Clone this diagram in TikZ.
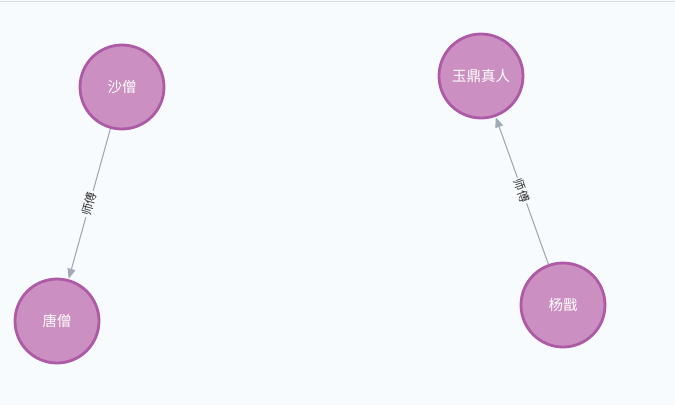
\documentclass[tikz,border=0pt]{standalone}
\usepackage{fontspec}
\newfontfamily\cjk{Noto Sans CJK SC}
\usetikzlibrary{arrows.meta}
\definecolor{bgc}{HTML}{F7FBFE}
\definecolor{nodefill}{HTML}{CB90C1}
\definecolor{nodeedge}{HTML}{AE5AA6}
\definecolor{edgec}{HTML}{A2A9B5}
\definecolor{topline}{HTML}{D6DDE4}
\definecolor{labc}{HTML}{333333}
\tikzset{
  person/.style={circle, draw=nodeedge, line width=2.8pt, fill=nodefill, minimum size=84pt, inner sep=0pt, text=white, font=\cjk\fontsize{14.5}{15}\selectfont},
  rel/.style={draw=edgec, line width=1.1pt, -{Triangle[length=10pt,width=8pt]}, shorten >=0.5pt},
  rellabel/.style={sloped, midway, fill=bgc, inner sep=1.5pt, text=labc, font=\cjk\fontsize{12}{12}\selectfont}
}
\begin{document}
\begin{tikzpicture}[x=1pt,y=-1pt]
\fill[bgc] (0,0) rectangle (675,405);
\useasboundingbox (0,0) rectangle (675,405);
\draw[topline, line width=1pt] (0,1) -- (675,1);
\node[person] (sha) at (122,87) {沙僧};
\node[person] (yu) at (481,76) {玉鼎真人};
\node[person] (tang) at (57,321) {唐僧};
\node[person] (yang) at (563,305) {杨戬};
\draw[rel] (sha) -- node[rellabel] {师傅} (tang);
\draw[rel] (yang) -- node[rellabel] {师傅} (yu);
\end{tikzpicture}
\end{document}
